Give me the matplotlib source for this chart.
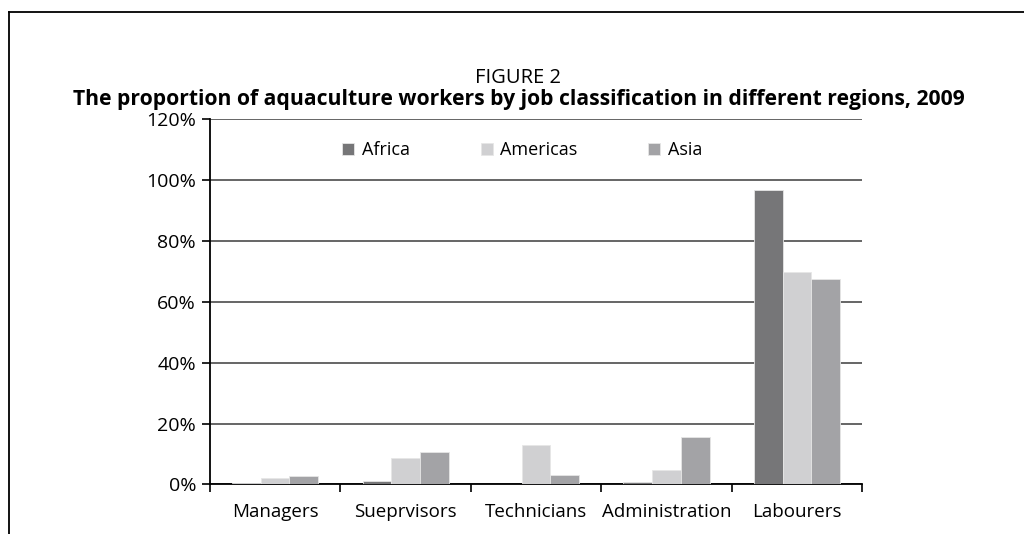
import numpy as np
import matplotlib
matplotlib.use("Agg")
import matplotlib.pyplot as plt
from matplotlib.lines import Line2D
from matplotlib.ticker import FuncFormatter

# job classes and regional shares (%)
jobs = ["Managers", "Sueprvisors", "Technicians", "Administration", "Labourers"]
regions = ["Africa", "Americas", "Asia"]
africa = [0.5, 1.3, 0.0, 0.8, 96.9]
americas = [2.2, 8.6, 12.9, 4.7, 69.9]
asia = [2.8, 10.6, 3.0, 15.7, 67.5]

colors = ["#767678", "#d0d0d2", "#a3a3a6"]

plt.rcParams["font.family"] = ["Open Sans", "DejaVu Sans"]

fig = plt.figure(figsize=(10.24, 5.34), dpi=100)
ax = fig.add_axes([0.205, 0.0927, 0.637, 0.684])

x = np.arange(len(jobs))
w = 0.22
for i, (vals, name) in enumerate(zip([africa, americas, asia], regions)):
    ax.bar(x + (i - 1) * w, vals, width=w, color=colors[i], label=name,
           edgecolor="#e6e6e6", linewidth=0.6, zorder=3)

ax.set_xlim(-0.5, len(jobs) - 0.5)
ax.set_ylim(0, 120)
ax.set_yticks(np.arange(0, 121, 20))
ax.yaxis.set_major_formatter(FuncFormatter(lambda v, p: f"{v:.0f}%"))
ax.grid(axis="y", color="#3c3c3c", linewidth=1.1, zorder=1)

# category labels in the middle, ticks at the boundaries
ax.set_xticks(x)
ax.set_xticklabels(jobs)
ax.set_xticks(np.arange(-0.5, len(jobs)), minor=True)
ax.tick_params(axis="x", which="major", length=0, pad=13, labelsize=13.5)
ax.tick_params(axis="x", which="minor", length=6, width=1.2, color="black")
ax.tick_params(axis="y", length=6, width=1.2, labelsize=14, pad=4)

for s in ["top", "right"]:
    ax.spines[s].set_visible(False)
ax.spines["left"].set_linewidth(1.3)
ax.spines["bottom"].set_linewidth(1.3)

ax.legend(loc="upper center", bbox_to_anchor=(0.479, 0.985), ncol=3, frameon=False,
          fontsize=13, handlelength=0.66, handleheight=0.66, columnspacing=3.9,
          handletextpad=0.44)

fig.text(0.506, 0.845, "FIGURE 2", ha="center", va="baseline", fontsize=14.5)
fig.text(0.507, 0.804,
         "The proportion of aquaculture workers by job classification in different regions, 2009",
         ha="center", va="baseline", fontsize=15.2, fontweight="bold")

# page frame: top and left rules
fig.add_artist(Line2D([0.009, 1.0], [0.978, 0.978], color="black", linewidth=1.3))
fig.add_artist(Line2D([0.009, 0.009], [0.0, 0.978], color="black", linewidth=1.3))

fig.savefig("out.png", dpi=100)
